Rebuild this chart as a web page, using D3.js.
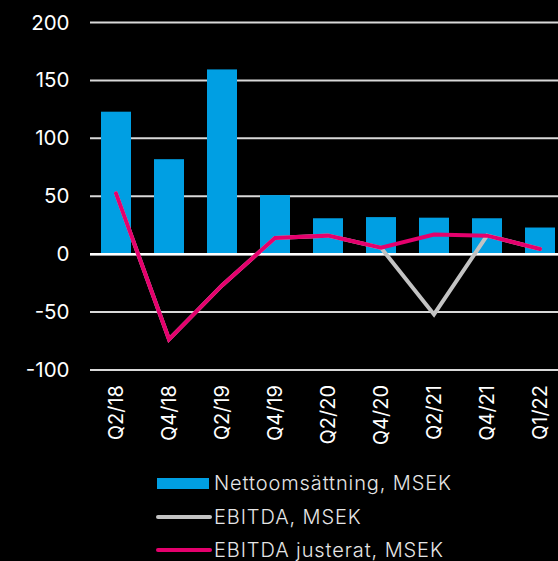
<!DOCTYPE html>
<html><head><meta charset="utf-8">
<script src="https://cdn.jsdelivr.net/npm/d3@7"></script>
<style>
html,body{margin:0;padding:0;background:#000;}
svg{display:block;}
</style></head>
<body>
<script>
const categories = ["Q2/18","Q4/18","Q2/19","Q4/19","Q2/20","Q4/20","Q2/21","Q4/21","Q1/22"];
const netSales = [123, 82, 159.5, 51, 31, 32, 31.5, 31, 23];
const ebitda = [52.5, -73.5, -27, 14, 16, 5.5, -52, 16, 4.5];
const ebitdaAdj = [52.5, -73.5, -27, 14, 16, 5.5, 17, 16, 4.5];
const yTicks = [-100, -50, 0, 50, 100, 150, 200];
const seriesNames = ["Nettoomsättning, MSEK", "EBITDA, MSEK", "EBITDA justerat, MSEK"];
const colors = {bar: "#009fe3", ebitda: "#c3c3c3", adj: "#e5006d", grid: "#d9d9d9", text: "#ffffff"};

const W = 558, H = 561;
const FONT = "Inter, 'Liberation Sans', sans-serif";
const svg = d3.select("body").append("svg").attr("width", W).attr("height", H);
svg.append("rect").attr("width", W).attr("height", H).attr("fill", "#000");

const y = d3.scaleLinear().domain([-100, 200]).range([370, 22.5]);
const x = d3.scaleBand().domain(categories).range([89.5, 566.5]).paddingInner(0.434).paddingOuter(0.217);

// y axis labels
const yAxis = d3.axisLeft(y).tickValues(yTicks).tickSize(0).tickPadding(0).tickFormat(d => String(d));
const gy = svg.append("g").attr("transform", "translate(69.5,0)").call(yAxis);
gy.select(".domain").remove();
gy.selectAll("text").attr("fill", colors.text).attr("font-family", FONT)
  .attr("font-size", 20.5).attr("font-weight", 400);

// grid
svg.append("g").selectAll("line").data(yTicks).join("line")
  .attr("x1", 90).attr("x2", W).attr("y1", d => y(d)).attr("y2", d => y(d))
  .attr("stroke", colors.grid).attr("stroke-width", 2);

// bars
svg.append("g").selectAll("rect").data(netSales).join("rect")
  .attr("x", (d, i) => x(categories[i]))
  .attr("width", x.bandwidth())
  .attr("y", d => y(Math.max(0, d)))
  .attr("height", d => Math.abs(y(d) - y(0)))
  .attr("fill", colors.bar);

// zero line on top of bars
svg.append("line").attr("x1", 90).attr("x2", W).attr("y1", y(0)).attr("y2", y(0))
  .attr("stroke", "#ffffff").attr("stroke-width", 2.5);

const cx = c => x(c) + x.bandwidth() / 2;
const line = d3.line().x((d, i) => cx(categories[i])).y(d => y(d));

svg.append("path").datum(ebitda).attr("d", line).attr("fill", "none")
  .attr("stroke", colors.ebitda).attr("stroke-width", 4).attr("stroke-linecap", "round");
svg.append("path").datum(ebitdaAdj).attr("d", line).attr("fill", "none")
  .attr("stroke", colors.adj).attr("stroke-width", 4).attr("stroke-linecap", "round");

// x axis labels
const gx = svg.append("g").attr("transform", "translate(0,385)")
  .call(d3.axisBottom(x).tickSize(0).tickPadding(0));
gx.select(".domain").remove();
gx.selectAll("text")
  .attr("fill", colors.text)
  .attr("font-family", FONT)
  .attr("font-size", 20)
  .attr("transform", "rotate(-90)")
  .attr("text-anchor", "end")
  .attr("x", 0).attr("y", 0).attr("dy", "0.35em");

// legend
const lg = svg.append("g").attr("font-family", FONT)
  .attr("font-size", 20).attr("font-weight", 300).attr("fill", "#e6e6e6")
  .attr("letter-spacing", 0.9);
lg.append("rect").attr("x", 157).attr("y", 478).attr("width", 52).attr("height", 11).attr("fill", colors.bar);
lg.append("line").attr("x1", 158).attr("x2", 210).attr("y1", 517).attr("y2", 517)
  .attr("stroke", colors.ebitda).attr("stroke-width", 4).attr("stroke-linecap", "round");
lg.append("line").attr("x1", 158).attr("x2", 210).attr("y1", 550).attr("y2", 550)
  .attr("stroke", colors.adj).attr("stroke-width", 4).attr("stroke-linecap", "round");
const ly = [490, 524, 557];
lg.selectAll("text").data(seriesNames).join("text")
  .attr("x", 214).attr("y", (d, i) => ly[i]).text(d => d);
</script>
</body></html>
